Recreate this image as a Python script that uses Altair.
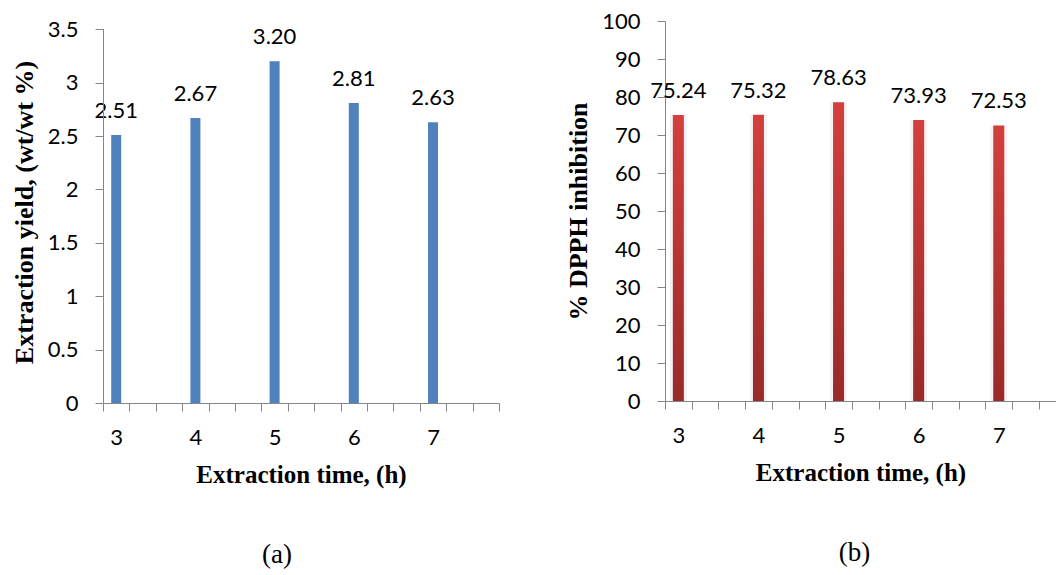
import altair as alt
import pandas as pd

# ---- data ----
hours = [3, 4, 5, 6, 7]
yield_pct = [2.51, 2.67, 3.20, 2.81, 2.63]
yield_text = ["2.51", "2.67", "3.20", "2.81", "2.63"]
dpph = [75.24, 75.32, 78.63, 73.93, 72.53]
dpph_text = ["75.24", "75.32", "78.63", "73.93", "72.53"]

left_y_ticks = [0, 0.5, 1, 1.5, 2, 2.5, 3, 3.5]
right_y_ticks = [0, 10, 20, 30, 40, 50, 60, 70, 80, 90, 100]
# minor category-style ticks of the x axis (every third of an hour)
x_minor_ticks = [2.8333, 3.1667, 3.5, 3.8333, 4.1667, 4.5, 4.8333, 5.1667,
                 5.5, 5.8333, 6.1667, 6.5, 6.8333, 7.1667, 7.5, 7.8333]

df_a = pd.DataFrame({"hour": hours, "value": yield_pct, "label": yield_text})
df_b = pd.DataFrame({"hour": hours, "value": dpph, "label": dpph_text})

GRAY = "#868686"
LABEL_FONT = "Lato"
TITLE_FONT = "Liberation Serif"
IS_INT = "abs(datum.value - round(datum.value)) < 0.01"


def x_axis():
    return alt.Axis(
        values=x_minor_ticks + hours,
        title="Extraction time, (h)",
        grid=False,
        tickSize=8,
        tickColor=GRAY,
        domainColor=GRAY,
        tickOpacity={"condition": {"test": IS_INT, "value": 0}, "value": 1},
        labelExpr=IS_INT + " ? format(datum.value, 'd') : ''",
        labelOverlap=False,
        labelFlush=False,
        labelBound=False,
        labelFont=LABEL_FONT,
        labelFontSize=22,
        labelColor="black",
        labelPadding=16,
        titleFont=TITLE_FONT,
        titleFontSize=25,
        titleFontWeight="bold",
        titleColor="black",
        titlePadding=14,
    )


def y_axis(values, title, domain=True):
    return alt.Axis(
        values=values,
        title=title,
        grid=False,
        domain=domain,
        domainColor=GRAY,
        tickSize=8,
        tickColor=GRAY,
        labelExpr="'' + datum.value",
        labelOverlap=False,
        labelFont=LABEL_FONT,
        labelFontSize=22,
        labelColor="black",
        labelPadding=17,
        titleFont=TITLE_FONT,
        titleFontSize=26,
        titleFontWeight="bold",
        titleColor="black",
        titlePadding=10,
    )


# ---- panel (a) ----
xa = alt.X("hour:Q", scale=alt.Scale(domain=[2.8333, 7.8333], nice=False, zero=False, padding=0),
           axis=x_axis())
ya = alt.Y("value:Q", scale=alt.Scale(domain=[0, 3.578], nice=False),
           axis=y_axis(left_y_ticks, "Extraction yield, (wt/wt  %)", domain=False))

base_a = alt.Chart(df_a).encode(x=xa, y=ya)
bars_a = base_a.mark_bar(size=10, color="#4F81BD")
text_a = base_a.mark_text(font=LABEL_FONT, fontSize=22, dy=-24, baseline="middle", color="black").encode(
    text="label:N")
yline_a = alt.Chart(df_a).mark_rule(color=GRAY, strokeWidth=1).encode(
    x=alt.value(0.5), y=alt.datum(0), y2=alt.datum(3.5))

panel_a = alt.layer(bars_a, text_a, yline_a).properties(
    width=396, height=382,
    title=alt.TitleParams("(a)", orient="bottom", anchor="middle", font=TITLE_FONT, fontSize=27,
                          fontWeight="normal", color="black", offset=55, dx=-24),
)

# ---- panel (b) ----
xb = alt.X("hour:Q", scale=alt.Scale(domain=[2.8333, 7.7146], nice=False, zero=False, padding=0),
           axis=x_axis())
yb = alt.Y("value:Q", scale=alt.Scale(domain=[0, 100], nice=False),
           axis=y_axis(right_y_ticks, "% DPPH inhibition"))

red_grad = alt.Gradient(
    gradient="linear", x1=0, y1=0, x2=0, y2=1,
    stops=[alt.GradientStop(offset=0, color="#D43F3C"), alt.GradientStop(offset=1, color="#982A29")],
)
base_b = alt.Chart(df_b).encode(x=xb, y=yb)
shadow_b = base_b.mark_bar(size=17, color="#000000", opacity=0.05)
bars_b = base_b.mark_bar(size=11, color=red_grad)
text_b = base_b.mark_text(font=LABEL_FONT, fontSize=22, dy=-24, baseline="middle", color="black").encode(
    text="label:N")

panel_b = alt.layer(shadow_b, bars_b, text_b).properties(
    width=391, height=380,
    title=alt.TitleParams("(b)", orient="bottom", anchor="middle", font=TITLE_FONT, fontSize=27,
                          fontWeight="normal", color="black", offset=55, dx=-6),
)

chart = alt.hconcat(panel_a, panel_b, spacing=166, bounds="flush").properties(
    padding={"left": 11, "top": 10, "right": 0, "bottom": 4},
    background="white",
).configure_view(stroke=None)

chart.save("out.html", embed_options={"renderer": "svg", "actions": False})
